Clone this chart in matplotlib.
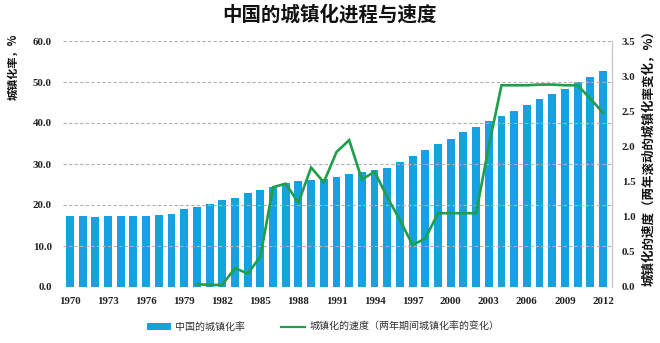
import matplotlib
matplotlib.use("Agg")
import matplotlib.pyplot as plt
from matplotlib.patches import Patch
from matplotlib.lines import Line2D

plt.rcParams['font.family'] = ['Noto Sans CJK SC', 'DejaVu Sans']

years = list(range(1970, 2013))
urban_rate = [17.4, 17.3, 17.1, 17.2, 17.2, 17.3, 17.4, 17.6, 17.9, 19.0,
              19.4, 20.2, 21.1, 21.6, 23.0, 23.7, 24.5, 25.3, 25.8, 26.2,
              26.4, 26.9, 27.5, 28.0, 28.5, 29.0, 30.5, 31.9, 33.4, 34.8,
              36.2, 37.7, 39.1, 40.5, 41.8, 43.0, 44.3, 45.9, 47.0, 48.3,
              50.0, 51.3, 52.6]

speed_years = list(range(1980, 2013))
speed = [0.04, 0.03, 0.03, 0.27, 0.19, 0.43, 1.42, 1.47, 1.20, 1.70,
         1.49, 1.92, 2.09, 1.53, 1.64, 1.28, 0.95, 0.60, 0.69, 1.05,
         1.05, 1.05, 1.05, 2.00, 2.87, 2.87, 2.87, 2.88, 2.88, 2.87,
         2.87, 2.68, 2.48]

xtick_years = list(range(1970, 2013, 3))
left_ticks = [0, 10, 20, 30, 40, 50, 60]
right_ticks = [0, 0.5, 1.0, 1.5, 2.0, 2.5, 3.0, 3.5]

title = "中国的城镇化进程与速度"
left_label = "城镇化率，%"
right_label = "城镇化的速度（两年滚动的城镇化率变化，%）"
bar_name = "中国的城镇化率"
line_name = "城镇化的速度（两年期间城镇化率的变化）"

bar_color = "#16a2e0"
line_color = "#1f9e4c"
tick_color = "#222222"
tick_font = dict(family='Liberation Serif', weight='bold', size=7.8)

fig = plt.figure(figsize=(6.6, 3.43), dpi=100)
ax = fig.add_axes([63/660, 56/343, 549/660, 246/343])

ax.bar(years, urban_rate, width=0.62, color=bar_color, zorder=1)
ax.set_xlim(1969.45, 2012.71)
ax.set_ylim(0, 60)
ax.set_yticks(left_ticks)
ax.set_yticklabels([f"{v:.1f}" for v in left_ticks], fontdict=tick_font)
ax.set_xticks(xtick_years)
ax.set_xticklabels([str(y) for y in xtick_years], fontdict=tick_font)
ax.set_axisbelow(False)
ax.grid(axis='y', color='#b0b0b0', linestyle=(0, (3, 2)), linewidth=0.8)
ax.tick_params(axis='y', length=0, pad=8, labelcolor=tick_color)
ax.tick_params(axis='x', length=0, pad=7, labelcolor=tick_color)
for side in ['top', 'left', 'bottom', 'right']:
    ax.spines[side].set_visible(False)

ax2 = ax.twinx()
ax2.plot(speed_years, speed, color=line_color, linewidth=1.9,
         solid_joinstyle='miter', zorder=3)
ax2.set_ylim(0, 3.5)
ax2.set_yticks(right_ticks)
ax2.set_yticklabels([f"{v:.1f}" for v in right_ticks], fontdict=tick_font)
ax2.tick_params(axis='y', length=0, pad=7, labelcolor=tick_color)
for side in ['top', 'left', 'bottom']:
    ax2.spines[side].set_visible(False)
ax2.spines['right'].set_color('#c8c8c8')
ax2.spines['right'].set_linewidth(1.0)

fig.text(0.5, 1 - 15/343, title, ha='center', va='center',
         fontsize=14, fontweight='bold', color='#111111')
fig.text(13/660, 1 - 34/343, left_label, rotation=90, ha='center', va='top',
         fontsize=8, fontweight='bold', color='#111111')
fig.text(649/660, 1 - 155/343, right_label, rotation=90, ha='center',
         va='center', fontsize=9, fontweight='bold', color='#111111')

handles = [Patch(facecolor=bar_color, edgecolor='none'),
           Line2D([0], [0], color=line_color, linewidth=1.6)]
fig.legend(handles, [bar_name, line_name], loc='center',
           bbox_to_anchor=(0.49, 1 - 327/343), ncol=2, frameon=False,
           fontsize=7.2, handlelength=2.4, handleheight=0.6,
           columnspacing=3.6, handletextpad=0.4, labelcolor='#333333')

fig.savefig("out.png", dpi=100)
